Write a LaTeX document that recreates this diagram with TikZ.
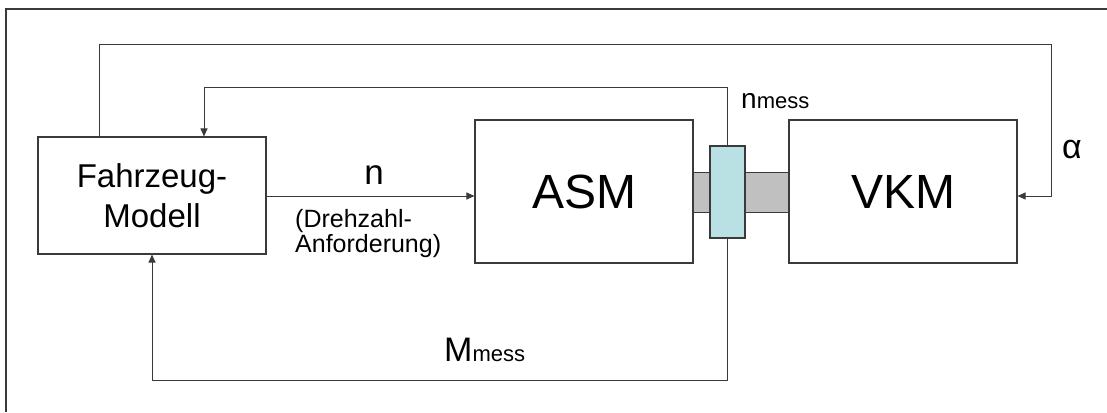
\documentclass[tikz,border=0pt]{standalone}
\usepackage{fontspec}
\setmainfont{Liberation Sans}
\usetikzlibrary{arrows.meta,calc}
\definecolor{ln}{HTML}{3A3A3A}
\definecolor{shaftgray}{HTML}{C0C0C0}
\definecolor{sensblue}{HTML}{B9E0E3}
\tikzset{
  blk/.style={draw=ln, line width=1.1pt, fill=white, inner sep=0pt, align=center},
  conn/.style={draw=ln, line width=1pt},
  arr/.style={conn, -{Triangle[length=8pt,width=7pt]}},
  lbl/.style={inner sep=0pt, text=black},
}
\newcommand{\fsz}[1]{\fontsize{#1}{#1}\selectfont}
\begin{document}
\begin{tikzpicture}[x=1pt,y=-1pt]
\useasboundingbox (0,0) rectangle (1107,412);
% outer frame
\draw[draw=ln, line width=1.3pt] (6,412) -- (6,9) -- (1107,9);
% shaft
\fill[shaftgray] (693,172) rectangle (789,212);
\draw[ln, line width=1pt] (693,172) -- (789,172) (693,212) -- (789,212);
% blocks
\node[blk, minimum width=228pt, minimum height=117pt, font=\fontsize{33}{40}\selectfont] (fz) at (152,195.5) {Fahrzeug-\\Modell};
\node[blk, minimum width=218pt, minimum height=143pt, font=\fsz{48}] (asm) at (584,191.5) {ASM};
\node[blk, minimum width=228pt, minimum height=143pt, font=\fsz{48}] (vkm) at (903,191.5) {VKM};
\node[draw=ln, line width=1.1pt, fill=sensblue, inner sep=0pt, minimum width=35pt, minimum height=92pt] (sens) at (727.5,192) {};
% coordinates
\coordinate (ya) at (0,196);
\coordinate (t1) at (99,45);
\coordinate (t2) at (1051,45);
\coordinate (u) at (204,87);
\coordinate (b) at (152,380);
% connectors
\draw[arr] (fz.north -| t1) -- (t1) -- (t2) |- (vkm.east |- ya);
\draw[arr] (sens.north) |- (u) -- (u |- fz.north);
\draw[arr] (sens.south) |- (b) -- (fz.south);
\draw[arr] (fz.east |- ya) -- (asm.west |- ya);
% labels
\node[lbl, anchor=base, font=\fsz{35}] (ln) at (374,184) {n};
\node[lbl, anchor=base west, font=\fsz{25}] (d1) at (295,227) {(Drehzahl-};
\node[lbl, anchor=base west, font=\fsz{25}] (d2) at (295,252) {Anforderung)};
\node[lbl, anchor=base west] (nm) at (741,108) {{\fsz{28}n}{\fsz{22}mess}};
\node[lbl, anchor=base west] (mm) at (444,361) {{\fsz{34}M}{\fsz{22}mess}};
\node[lbl, anchor=base west, font=\fsz{34}] (al) at (1062,158) {α};
\end{tikzpicture}
\end{document}
